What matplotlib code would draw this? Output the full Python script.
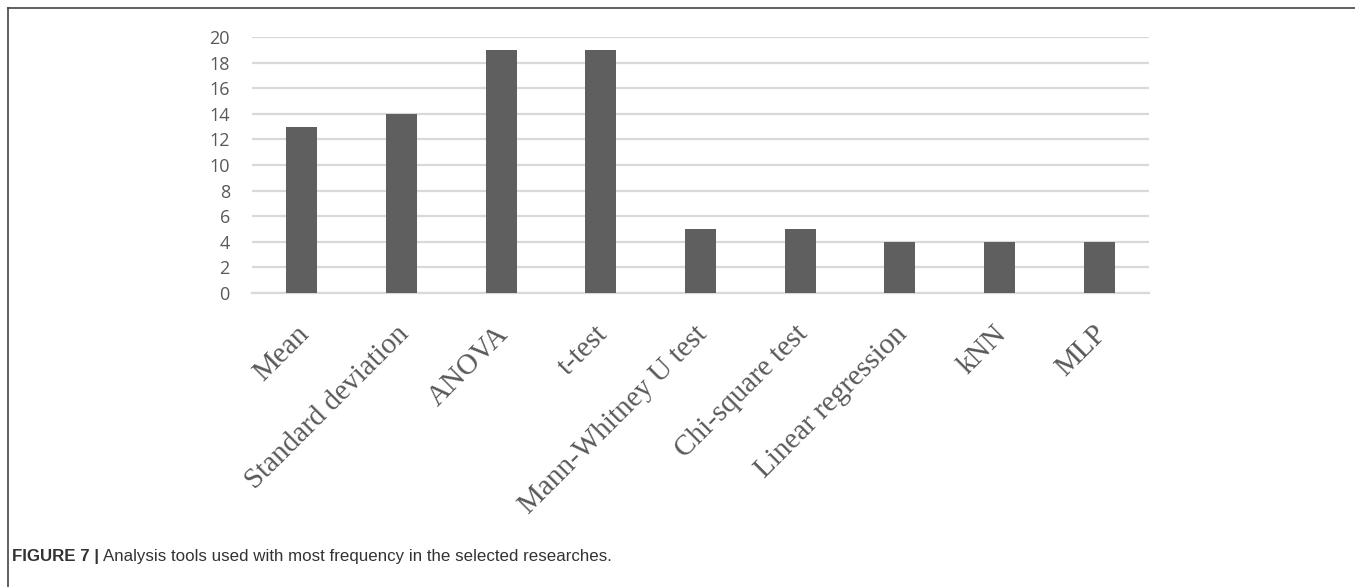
import numpy as np
import matplotlib.pyplot as plt
import matplotlib.transforms as mtransforms
from matplotlib.lines import Line2D

tools  = ["Mean", "Standard deviation", "ANOVA", "t-test", "Mann-Whitney U test",
          "Chi-square test", "Linear regression", "kNN", "MLP"]
counts = [13, 14, 19, 19, 5, 5, 4, 4, 4]
yticks = np.arange(0, 21, 2)

bar_color  = "#5f5f5f"
grid_color = "#d9d9d9"
text_color = "#595959"

fig = plt.figure(figsize=(13.55, 5.87), dpi=100)
ax = fig.add_axes([252 / 1355, 1 - 293 / 587, (1149 - 252) / 1355, (293 - 37) / 587])

x = np.arange(len(tools))
ax.bar(x, counts, width=0.31, color=bar_color, zorder=3)

ax.set_xlim(-0.5, len(tools) - 0.5)
ax.set_ylim(0, 20)
ax.set_yticks(yticks)
ax.set_yticklabels([str(v) for v in yticks], family="Open Sans", fontsize=13, color=text_color)
ax.yaxis.grid(True, color=grid_color, linewidth=1.6, zorder=0)
ax.tick_params(axis="y", length=0, pad=16)
ax.tick_params(axis="x", length=0, pad=20)

ax.set_xticks(x)
ax.set_xticklabels(tools, rotation=45, ha="right", va="top", rotation_mode="anchor",
                   family="Liberation Serif", fontsize=21, color=text_color)
shift = mtransforms.ScaledTranslation(-6 / 100, 0, fig.dpi_scale_trans)
for lab in ax.get_xticklabels():
    lab.set_transform(lab.get_transform() + shift)

for side in ["top", "right", "left"]:
    ax.spines[side].set_visible(False)
ax.spines["bottom"].set_color(grid_color)
ax.spines["bottom"].set_linewidth(1.6)

# frame around the figure panel (left and top only)
fig.add_artist(Line2D([8 / 1355, 8 / 1355], [0, 1 - 8 / 587], color="#444444", linewidth=1.2))
fig.add_artist(Line2D([8 / 1355, 1], [1 - 8 / 587, 1 - 8 / 587], color="#444444", linewidth=1.2))

# caption
cap_y = 1 - 557 / 587
t1 = fig.text(12 / 1355, cap_y, "FIGURE 7 |", family="Liberation Sans", fontweight="bold",
              fontsize=12.2, color="#333333", va="center")
fig.canvas.draw()
bb = t1.get_window_extent(renderer=fig.canvas.get_renderer())
fig.text((bb.x1 + 4) / 1355, cap_y, "Analysis tools used with most frequency in the selected researches.",
         family="Liberation Sans", fontsize=12.2, color="#333333", va="center")

fig.savefig("out.png", dpi=100)
